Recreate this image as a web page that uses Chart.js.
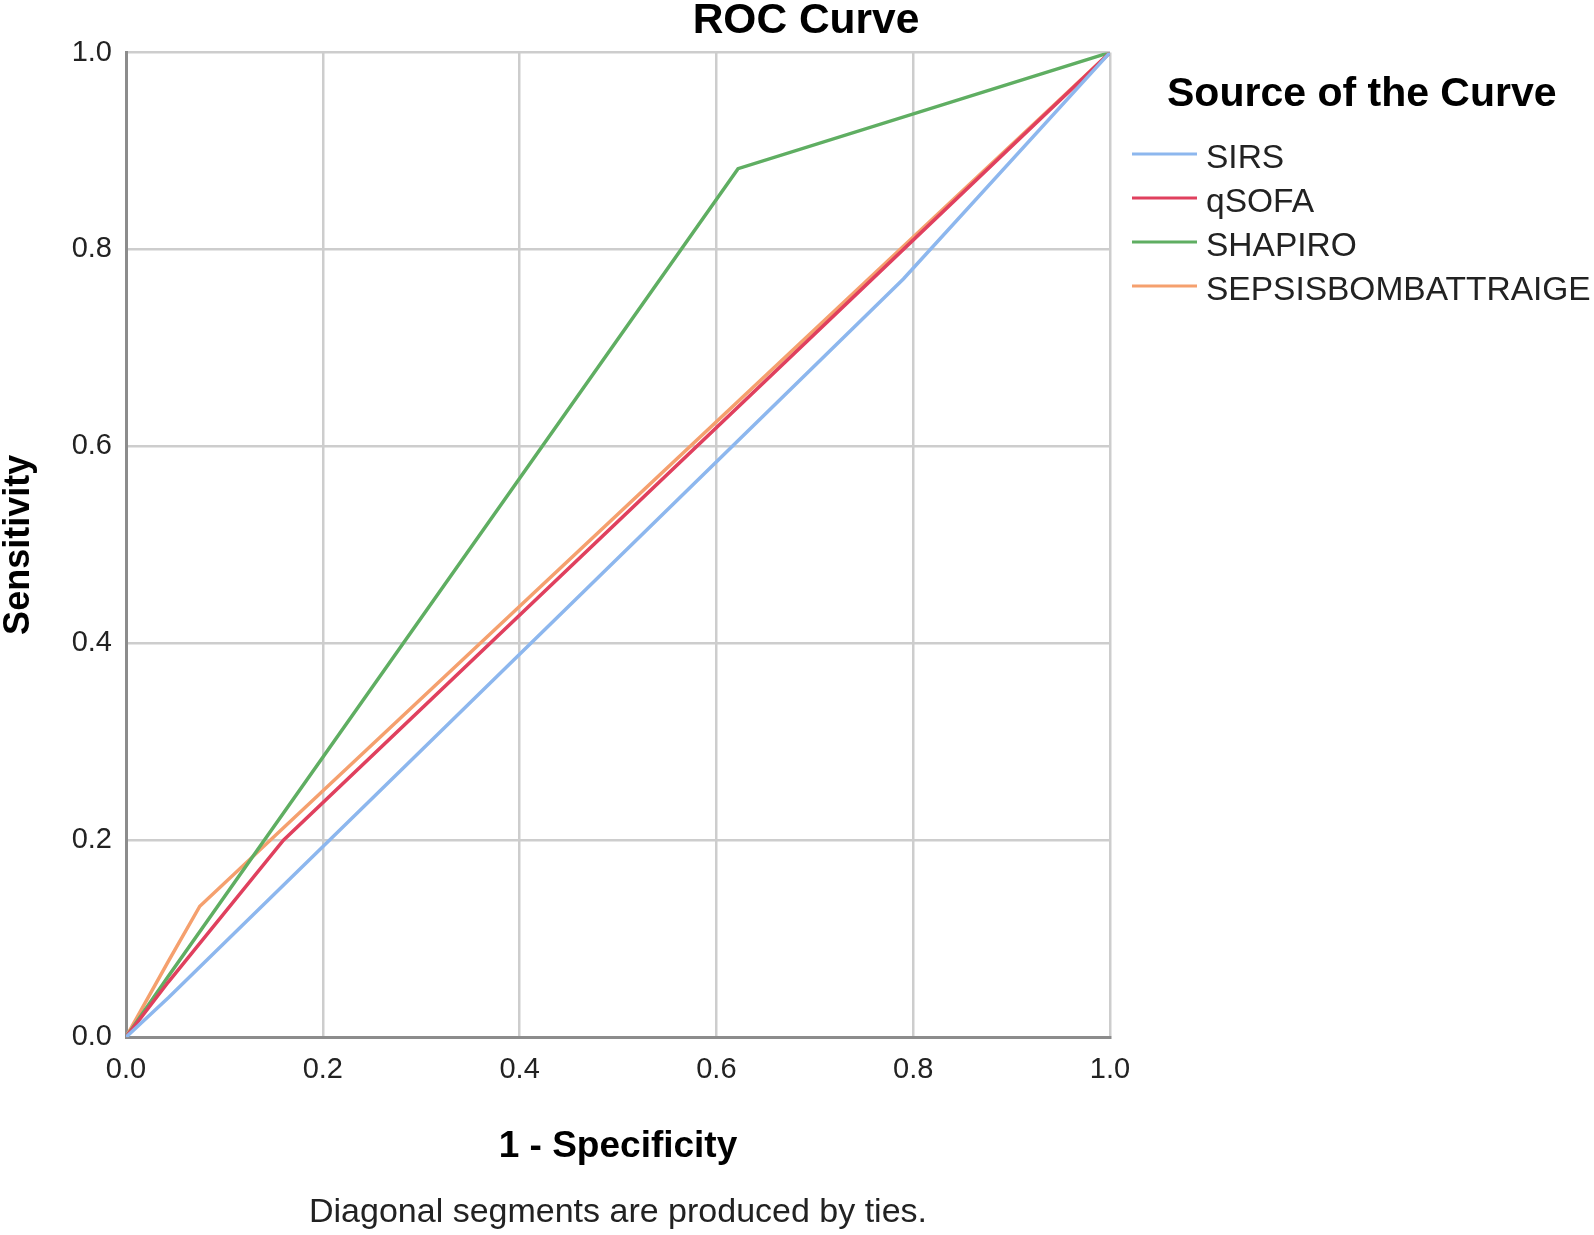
<!DOCTYPE html>
<html>
<head>
<meta charset="utf-8">
<script src="https://cdn.jsdelivr.net/npm/chart.js@4.4.1/dist/chart.umd.min.js"></script>
<style>
  html, body { margin: 0; padding: 0; background: #fff; }
  #wrap { width: 1594px; height: 1235px; }
</style>
</head>
<body>
<div id="wrap"><canvas id="rocChart" width="1594" height="1235"></canvas></div>
<script>
// ROC points (x = 1 - specificity, y = sensitivity)
const sirsX = [0, 0.043, 0.79, 1];
const sirsY = [0, 0.040, 0.77, 1];
const qsofaX = [0, 0.043, 0.16, 1];
const qsofaY = [0, 0.056, 0.20, 1];
const shapiroX = [0, 0.043, 0.622, 1];
const shapiroY = [0, 0.062, 0.882, 1];
const sepsisX = [0, 0.043, 0.075, 1];
const sepsisY = [0, 0.077, 0.133, 1];

const seriesNames = ['SIRS', 'qSOFA', 'SHAPIRO', 'SEPSISBOMBATTRAIGE'];
const seriesColors = ['#8db7ee', '#e0405e', '#5fae62', '#f5a06e'];
const tickValues = [0, 0.2, 0.4, 0.6, 0.8, 1.0];

const FONT = '"Liberation Sans", Arial, sans-serif';

function toPoints(xs, ys) {
    return xs.map((x, i) => ({ x: x, y: ys[i] }));
}

// legend drawn at the right of the plot, SPSS style
const sideLegend = {
    id: 'sideLegend',
    afterDraw(chart) {
        const ctx = chart.ctx;
        const left = chart.chartArea.right;
        ctx.save();
        ctx.fillStyle = '#000';
        ctx.textBaseline = 'alphabetic';
        ctx.font = 'bold 41px ' + FONT;
        ctx.fillText('Source of the Curve', left + 57, 106);
        ctx.font = '33.5px ' + FONT;
        chart.data.datasets.forEach((ds, i) => {
            const y = 154 + i * 44;
            ctx.strokeStyle = ds.borderColor;
            ctx.lineWidth = 3;
            ctx.beginPath();
            ctx.moveTo(left + 22, y);
            ctx.lineTo(left + 87, y);
            ctx.stroke();
            ctx.fillStyle = '#222';
            ctx.fillText(ds.label, left + 96, y + 14);
        });
        ctx.restore();
    }
};

const ctx = document.getElementById('rocChart').getContext('2d');
const rocChart = new Chart(ctx, {
    type: 'scatter',
    data: {
        datasets: [
            { label: seriesNames[0], data: toPoints(sirsX, sirsY), borderColor: seriesColors[0] },
            { label: seriesNames[1], data: toPoints(qsofaX, qsofaY), borderColor: seriesColors[1] },
            { label: seriesNames[2], data: toPoints(shapiroX, shapiroY), borderColor: seriesColors[2] },
            { label: seriesNames[3], data: toPoints(sepsisX, sepsisY), borderColor: seriesColors[3] }
        ].map(ds => Object.assign(ds, {
            showLine: true,
            borderWidth: 3.5,
            pointRadius: 0,
            pointHoverRadius: 0,
            backgroundColor: ds.borderColor,
            tension: 0
        }))
    },
    options: {
        responsive: false,
        animation: false,
        layout: { padding: { left: 18, right: 0, top: 0, bottom: 0 } },
        plugins: {
            legend: { display: false },
            tooltip: { enabled: false },
            title: {
                display: true,
                text: 'ROC Curve',
                color: '#000',
                font: { family: FONT, size: 42.5, weight: 'bold', lineHeight: 1 },
                padding: { top: 0, bottom: 10 }
            },
            subtitle: {
                display: true,
                position: 'bottom',
                fullSize: false,
                text: 'Diagonal segments are produced by ties.',
                color: '#222',
                font: { family: FONT, size: 34, lineHeight: 1.2 },
                padding: { top: 0, bottom: 2 }
            }
        },
        scales: {
            x: {
                type: 'linear',
                min: 0,
                max: 1,
                afterBuildTicks: (scale) => { scale.ticks = tickValues.map(v => ({ value: v })); },
                afterFit: (scale) => { scale.height = 155; },
                ticks: {
                    color: '#222',
                    padding: 15,
                    font: { family: FONT, size: 29 },
                    callback: (v) => Number(v).toFixed(1)
                },
                grid: { color: '#cdcdcd', lineWidth: 2.5, drawTicks: false },
                border: { display: true, color: '#8c8c8c', width: 3 },
                title: {
                    display: true,
                    text: '1 - Specificity',
                    color: '#000',
                    font: { family: FONT, size: 37, weight: 'bold', lineHeight: 1.2 },
                    padding: { top: 0, bottom: 23 }
                }
            },
            y: {
                type: 'linear',
                min: 0,
                max: 1,
                afterBuildTicks: (scale) => { scale.ticks = tickValues.map(v => ({ value: v })); },
                afterFit: (scale) => { scale.width = 108; },
                ticks: {
                    color: '#222',
                    padding: 14,
                    font: { family: FONT, size: 29 },
                    callback: (v) => Number(v).toFixed(1)
                },
                grid: { color: '#cdcdcd', lineWidth: 2.5, drawTicks: false },
                border: { display: true, color: '#8c8c8c', width: 3 },
                title: {
                    display: true,
                    text: 'Sensitivity',
                    color: '#000',
                    font: { family: FONT, size: 36, weight: 'bold', lineHeight: 1 },
                    padding: { top: -17, bottom: 0 }
                }
            },
            // empty axis that only reserves the space for the legend on the right
            legendSpace: {
                type: 'linear',
                position: 'right',
                min: 0,
                max: 1,
                afterFit: (scale) => { scale.width = 484; },
                ticks: { display: false },
                grid: { display: false },
                border: { display: false }
            }
        }
    },
    plugins: [sideLegend]
});
</script>
</body>
</html>
